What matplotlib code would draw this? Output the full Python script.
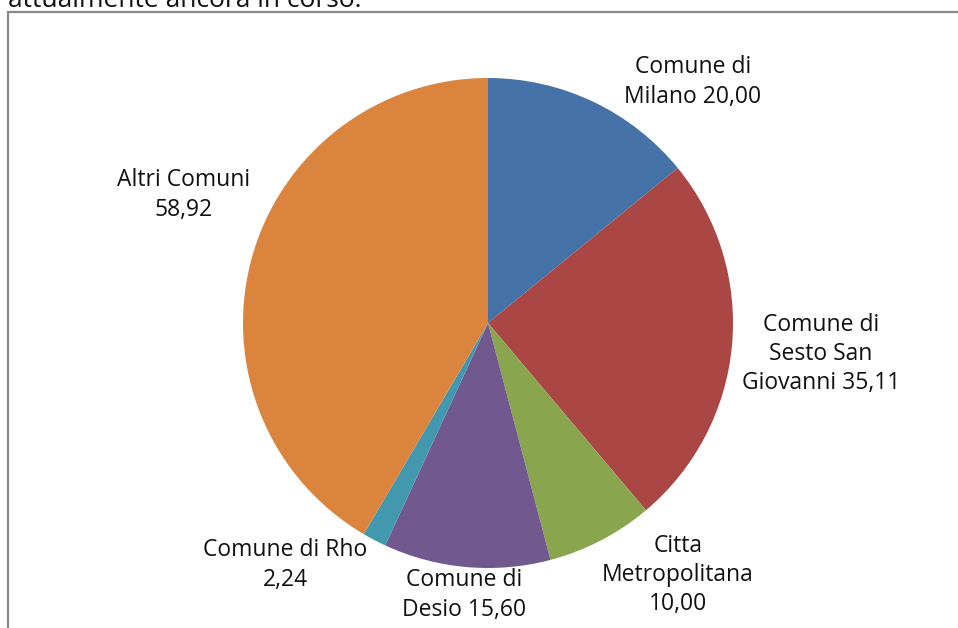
import matplotlib
matplotlib.use("Agg")
import matplotlib.pyplot as plt
from matplotlib.patches import Rectangle

categories = ["Comune di Milano", "Comune di Sesto San Giovanni", "Citta Metropolitana",
              "Comune di Desio", "Comune di Rho", "Altri Comuni"]
values = [20.00, 35.11, 10.00, 15.60, 2.24, 58.92]
label_texts = ["Comune di\nMilano 20,00", "Comune di\nSesto San\nGiovanni 35,11",
               "Citta\nMetropolitana\n10,00", "Comune di\nDesio 15,60",
               "Comune di Rho\n2,24", "Altri Comuni\n58,92"]
colors = ["#4572A7", "#AA4643", "#89A54E", "#71588F", "#4198AF", "#DB843D"]

W, H = 958, 628
fig = plt.figure(figsize=(W / 100, H / 100), dpi=100)
ax = fig.add_axes([0, 0, 1, 1])
ax.set_xlim(0, W)
ax.set_ylim(0, H)
ax.set_aspect("equal")
ax.axis("off")

# frame
fig.patches.append(Rectangle((8 / W, -0.1), 1.2, (H - 12) / H + 0.1, transform=fig.transFigure,
                             fill=False, edgecolor="#888888", linewidth=1.6))

fig.text(8 / W, (H - 7) / H, "attualmente ancora in corso.", fontsize=19, family="Open Sans",
         color="#111111", va="baseline", ha="left")

ax.pie(values, colors=colors, startangle=90, counterclock=False,
       center=(488, H - 323), radius=245, wedgeprops=dict(linewidth=0))
ax.set_xlim(0, W)
ax.set_ylim(0, H)

label_pos = [(693, 82), (821, 354), (678, 575), (464, 595), (285, 565), (184, 195)]
for txt, (x, y) in zip(label_texts, label_pos):
    ax.text(x, H - y, txt, ha="center", va="center", fontsize=16.5, family="Open Sans",
            color="#111111", linespacing=1.3)

fig.savefig("out.png", dpi=100)
